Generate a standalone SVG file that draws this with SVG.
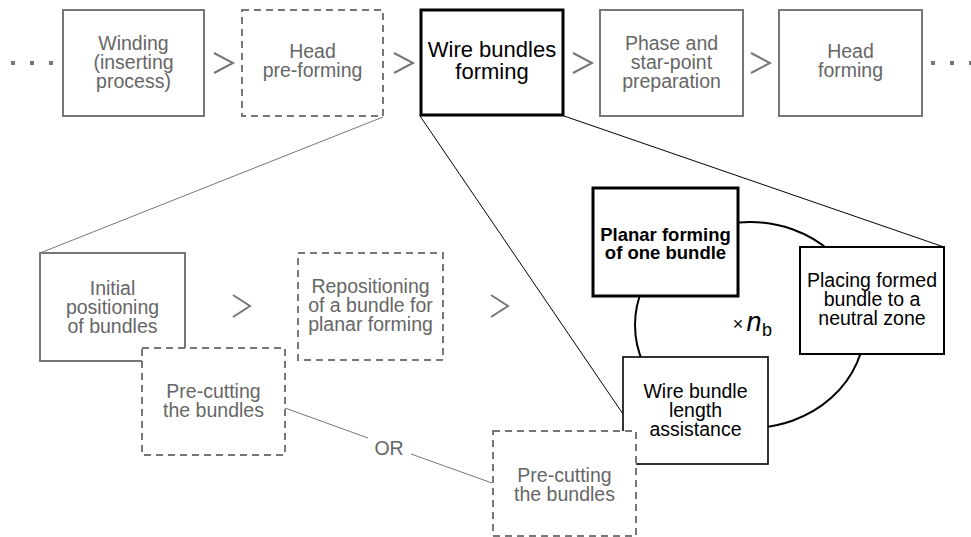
<svg xmlns="http://www.w3.org/2000/svg" width="971" height="537" viewBox="0 0 971 537">
<style>
text{font-family:"Liberation Sans",Arial,Helvetica,sans-serif;text-anchor:middle}
.g text{fill:#666;font-size:19.5px}
.b text{fill:#000;font-size:19.5px}
.gbox{fill:#fff;stroke:#777;stroke-width:2}
.dbox{fill:#fff;stroke:#777;stroke-width:2;stroke-dasharray:7 5}
.kbox{fill:#fff;stroke:#000;stroke-width:2}
.kthick{fill:#fff;stroke:#000;stroke-width:3}
.chev{fill:none;stroke:#777;stroke-width:2}
.gl{stroke:#777;stroke-width:1;fill:none}
.kl{stroke:#000;stroke-width:1;fill:none}
.dot{fill:#777}
</style>
<rect width="971" height="537" fill="#fff"/>
<g id="connectors">
<line class="gl" x1="383" y1="117" x2="40" y2="253"/>
<line class="kl" x1="420" y1="116" x2="623" y2="414"/>
<line class="kl" x1="564" y1="116" x2="944" y2="247"/>
<line class="gl" x1="285" y1="408" x2="368" y2="438"/>
<line class="gl" x1="411" y1="454" x2="492" y2="483"/>
<ellipse cx="750" cy="325" rx="115" ry="103" fill="none" stroke="#000" stroke-width="2"/>
</g>
<g id="dots-left"><rect class="dot" x="11" y="61" width="4" height="4"/><rect class="dot" x="30" y="61" width="4" height="4"/><rect class="dot" x="49" y="61" width="4" height="4"/></g>
<g id="dots-right"><rect class="dot" x="931" y="61" width="4" height="4"/><rect class="dot" x="950" y="61" width="4" height="4"/><rect class="dot" x="969" y="61" width="4" height="4"/></g>
<g id="chevrons">
<polyline class="chev" points="214,53 233,63 214,73"/>
<polyline class="chev" points="394,53 413,63 394,73"/>
<polyline class="chev" points="573,53 592,63 573,73"/>
<polyline class="chev" points="751,53 770,63 751,73"/>
<polyline class="chev" points="233,295 250,306 233,317"/>
<polyline class="chev" points="491,295 508,306 491,317"/>
</g>
<g id="winding" class="g"><rect class="gbox" x="63" y="10" width="141" height="106"/><text x="133.5" y="50">Winding</text><text x="133.5" y="69">(inserting</text><text x="133.5" y="88">process)</text></g>
<g id="head-preforming" class="g"><rect class="dbox" x="242" y="10" width="141" height="106"/><text x="312.5" y="58">Head</text><text x="312.5" y="77">pre-forming</text></g>
<g id="wire-bundles-forming" class="b"><rect class="kthick" x="421" y="10" width="142" height="105"/><text x="492" y="57" style="font-size:22px">Wire bundles</text><text x="492" y="79" style="font-size:22px">forming</text></g>
<g id="phase-starpoint" class="g"><rect class="gbox" x="600" y="10" width="143" height="106"/><text x="671.5" y="50">Phase and</text><text x="671.5" y="69">star-point</text><text x="671.5" y="88">preparation</text></g>
<g id="head-forming" class="g"><rect class="gbox" x="779" y="10" width="143" height="106"/><text x="850.5" y="58">Head</text><text x="850.5" y="77">forming</text></g>
<g id="initial-positioning" class="g"><rect class="gbox" x="40" y="253" width="145" height="108"/><text x="112.5" y="295">Initial</text><text x="112.5" y="314">positioning</text><text x="112.5" y="333">of bundles</text></g>
<g id="precutting-1" class="g"><rect class="dbox" x="142" y="348" width="143" height="107"/><text x="213.5" y="398">Pre-cutting</text><text x="213.5" y="417">the bundles</text></g>
<g id="repositioning" class="g"><rect class="dbox" x="298" y="253" width="145" height="107"/><text x="370.5" y="293">Repositioning</text><text x="370.5" y="312">of a bundle for</text><text x="370.5" y="331">planar forming</text></g>
<g id="or-label" class="g"><text x="389" y="455">OR</text></g>
<g id="planar-forming" class="b"><rect class="kthick" x="593" y="188" width="145" height="108"/><text x="665.5" y="240.5" style="font-size:18.5px;font-weight:bold">Planar forming</text><text x="665.5" y="258.5" style="font-size:18.5px;font-weight:bold">of one bundle</text></g>
<g id="placing-formed" class="b"><rect class="kbox" x="800" y="247" width="144" height="107"/><text x="872" y="287">Placing formed</text><text x="872" y="306">bundle to a</text><text x="872" y="325">neutral zone</text></g>
<g id="wire-bundle-length" class="b"><rect class="kbox" x="623" y="357" width="145" height="107" style="stroke-width:1.6"/><text x="695.5" y="398">Wire bundle</text><text x="695.5" y="417">length</text><text x="695.5" y="436">assistance</text></g>
<g id="precutting-2" class="g"><rect class="dbox" x="493" y="431" width="143" height="105"/><text x="564.5" y="482">Pre-cutting</text><text x="564.5" y="501">the bundles</text></g>
<g id="loop-label"><text x="738" y="330" style="font-size:18px;fill:#000">×</text><text x="754" y="331" style="font-size:27px;font-style:italic;fill:#000">n</text><text x="767" y="336" style="font-size:18px;fill:#000">b</text></g>
</svg>
